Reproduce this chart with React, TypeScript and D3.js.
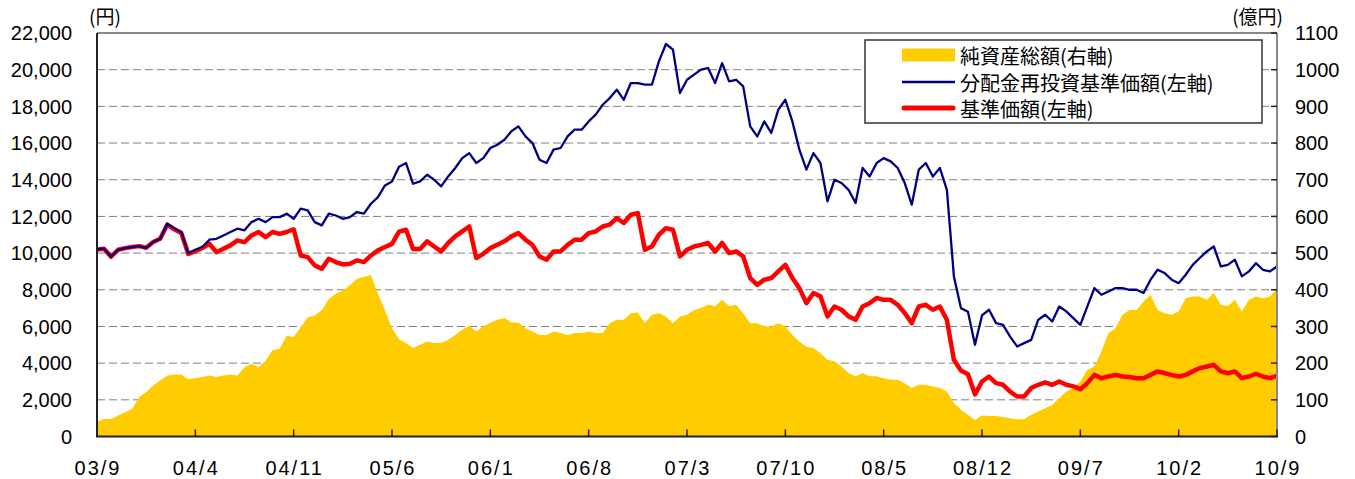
import { useRef, useEffect } from "react";
import * as d3 from "d3";

// x axis: one label every 7 months, 2003/9 .. 2010/9
const xLabels = ["03/9", "04/4", "04/11", "05/6", "06/1", "06/8", "07/3", "07/10", "08/5", "08/12", "09/7", "10/2", "10/9"];

// 純資産総額 (億円), read twice a month
const netAssets = [
  40, 48, 48, 57, 66, 75, 107, 121, 139, 153, 166, 169, 169, 157, 159, 162, 166, 162, 166, 169,
  166, 189, 198, 189, 207, 235, 239, 275, 271, 298, 325, 330, 344, 375, 389, 398, 412, 430, 435, 440,
  389, 344, 295, 265, 255, 241, 250, 259, 255, 255, 264, 277, 291, 302, 286, 300, 310, 318, 323, 311,
  311, 295, 286, 277, 277, 286, 282, 277, 282, 282, 286, 282, 282, 309, 318, 318, 336, 338, 309, 332,
  336, 327, 309, 327, 332, 345, 350, 359, 355, 373, 355, 359, 336, 309, 309, 300, 300, 309, 300, 277,
  259, 245, 241, 227, 209, 205, 191, 173, 164, 173, 164, 164, 159, 155, 155, 145, 132, 141, 141, 136,
  132, 123, 91, 73, 59, 45, 57, 56, 56, 53, 50, 47, 47, 59, 68, 77, 86, 105, 123, 132,
  150, 182, 191, 232, 282, 295, 332, 345, 345, 368, 386, 345, 336, 332, 341, 377, 382, 382, 373, 391,
  359, 355, 373, 341, 373, 382, 377, 382, 402,
];

// 分配金再投資基準価額 (円)
const reinvestedPrice = [
  10200, 10240, 9800, 10180, 10270, 10330, 10380, 10290, 10600, 10780, 11600, 11350, 11150, 10000, 10180, 10330, 10730, 10780, 10960, 11150,
  11330, 11240, 11690, 11870, 11690, 11960, 11960, 12150, 11870, 12420, 12330, 11690, 11510, 12150, 12050, 11870, 11960, 12240, 12150, 12690,
  13050, 13690, 13900, 14710, 14910, 13780, 13910, 14270, 14000, 13640, 14180, 14640, 15180, 15450, 14910, 15180, 15730, 15910, 16180, 16640,
  16910, 16360, 16000, 15090, 14910, 15640, 15730, 16360, 16730, 16730, 17180, 17550, 18090, 18450, 18910, 18360, 19270, 19270, 19180, 19180,
  20450, 21400, 21090, 18730, 19450, 19730, 20000, 20090, 19270, 20360, 19360, 19450, 19090, 16910, 16360, 17180, 16550, 17820, 18360, 17180,
  15640, 14550, 15450, 14910, 12820, 14000, 13820, 13450, 12730, 14640, 14180, 14910, 15180, 15000, 14640, 13820, 12640, 14550, 14910, 14180,
  14640, 13450, 8730, 7000, 6800, 5000, 6600, 6910, 6180, 6090, 5450, 4910, 5090, 5270, 6360, 6640, 6270, 7090, 6820, 6450,
  6090, 7090, 8090, 7730, 7910, 8090, 8090, 8000, 8000, 7820, 8550, 9090, 8910, 8550, 8360, 8820, 9360, 9730, 10090, 10360,
  9270, 9360, 9640, 8730, 9000, 9450, 9090, 9000, 9270,
];

// 基準価額 (円)
const basePrice = [
  10200, 10240, 9800, 10180, 10270, 10330, 10380, 10290, 10600, 10780, 11550, 11300, 11100, 9950, 10100, 10280, 10510, 10050, 10240, 10420,
  10690, 10600, 10960, 11150, 10870, 11150, 11050, 11150, 11300, 9870, 9780, 9330, 9150, 9690, 9510, 9380, 9420, 9600, 9510, 9870,
  10150, 10330, 10500, 11170, 11270, 10220, 10220, 10640, 10360, 10090, 10550, 10910, 11180, 11450, 9730, 9960, 10270, 10450, 10640, 10910,
  11090, 10730, 10450, 9820, 9640, 10090, 10090, 10450, 10730, 10730, 11090, 11180, 11450, 11550, 11910, 11640, 12090, 12180, 10180, 10360,
  11000, 11360, 11270, 9820, 10180, 10360, 10450, 10550, 10090, 10550, 10000, 10090, 9820, 8640, 8270, 8550, 8640, 9000, 9360, 8640,
  8090, 7270, 7820, 7640, 6550, 7090, 6910, 6550, 6360, 7090, 7270, 7550, 7450, 7450, 7180, 6730, 6180, 7090, 7180, 6910,
  7090, 6360, 4180, 3600, 3400, 2300, 3000, 3270, 2910, 2820, 2450, 2180, 2180, 2640, 2820, 2950, 2820, 3000, 2820, 2730,
  2580, 2910, 3360, 3180, 3270, 3360, 3270, 3240, 3180, 3180, 3360, 3550, 3450, 3360, 3270, 3360, 3550, 3730, 3820, 3910,
  3550, 3450, 3550, 3180, 3270, 3420, 3270, 3180, 3300,
];

const leftTicks = d3.range(0, 22001, 2000);
const rightTicks = d3.range(0, 1101, 100);

const legendItems = ["純資産総額(右軸)", "分配金再投資基準価額(左軸)", "基準価額(左軸)"];

const W = 1355;
const H = 479;
const NUM_FONT = "'Liberation Sans', Arial, sans-serif";
const JP_FONT = "'Noto Sans CJK JP', 'Liberation Sans', sans-serif";

export default function App() {
  const svgRef = useRef<SVGSVGElement | null>(null);

  useEffect(() => {
    const svg = d3.select(svgRef.current);
    svg.selectAll("*").remove();

    const margin = { top: 33, right: 78, bottom: 42.5, left: 97 };
    const innerWidth = W - margin.left - margin.right;
    const innerHeight = H - margin.top - margin.bottom;

    const lastMonth = (xLabels.length - 1) * 7;
    const xScale = d3.scaleLinear().domain([0, lastMonth]).range([0, innerWidth]);
    const yLeft = d3.scaleLinear().domain([0, 22000]).range([innerHeight, 0]);
    const yRight = d3.scaleLinear().domain([0, 1100]).range([innerHeight, 0]);

    const g = svg
      .append("g")
      .attr("transform", `translate(${margin.left},${margin.top})`);

    // dashed grid
    g.append("g")
      .selectAll("line")
      .data(leftTicks.slice(1, -1))
      .join("line")
      .attr("x1", 0)
      .attr("x2", innerWidth)
      .attr("y1", (d) => yLeft(d))
      .attr("y2", (d) => yLeft(d))
      .attr("stroke", "#808080")
      .attr("stroke-width", 1)
      .attr("stroke-dasharray", "8,4");

    const area = d3
      .area<number>()
      .x((_, i) => xScale(i / 2))
      .y0(innerHeight)
      .y1((d) => yRight(d));

    g.append("path").datum(netAssets).attr("fill", "#FFCC00").attr("d", area);

    const line = d3
      .line<number>()
      .x((_, i) => xScale(i / 2))
      .y((d) => yLeft(d));

    g.append("path")
      .datum(basePrice)
      .attr("fill", "none")
      .attr("stroke", "#FF0000")
      .attr("stroke-width", 4.5)
      .attr("stroke-linejoin", "round")
      .attr("d", line);

    g.append("path")
      .datum(reinvestedPrice)
      .attr("fill", "none")
      .attr("stroke", "#000080")
      .attr("stroke-width", 2.3)
      .attr("stroke-linejoin", "round")
      .attr("d", line);

    // frame
    g.append("line")
      .attr("x1", 0).attr("x2", innerWidth).attr("y1", 0).attr("y2", 0)
      .attr("stroke", "#888").attr("stroke-width", 2);
    g.append("line")
      .attr("x1", innerWidth).attr("x2", innerWidth).attr("y1", 0).attr("y2", innerHeight)
      .attr("stroke", "#888").attr("stroke-width", 2);
    g.append("line")
      .attr("x1", 0).attr("x2", 0).attr("y1", 0).attr("y2", innerHeight)
      .attr("stroke", "#222").attr("stroke-width", 2);
    g.append("line")
      .attr("x1", -1).attr("x2", innerWidth + 1).attr("y1", innerHeight).attr("y2", innerHeight)
      .attr("stroke", "#222").attr("stroke-width", 2);

    // bottom ticks (inward) + labels
    const xt = g.append("g");
    xLabels.forEach((label, i) => {
      const px = xScale(i * 7);
      xt.append("line")
        .attr("x1", px).attr("x2", px)
        .attr("y1", innerHeight).attr("y2", innerHeight - 7)
        .attr("stroke", "#222").attr("stroke-width", 1.5);
      xt.append("text")
        .attr("x", px + 1)
        .attr("y", innerHeight + 38.5)
        .attr("text-anchor", "middle")
        .style("font-family", NUM_FONT)
        .style("font-size", "20px")
        .style("letter-spacing", "2px")
        .text(label);
    });

    // left axis labels
    g.append("g")
      .selectAll("text")
      .data(leftTicks)
      .join("text")
      .attr("x", -25)
      .attr("y", (d) => yLeft(d))
      .attr("dy", "0.36em")
      .attr("text-anchor", "end")
      .style("font-family", NUM_FONT)
      .style("font-size", "20px")
      .text((d) => d3.format(",")(d));

    // right axis ticks (inward) + labels
    const rt = g.append("g");
    rightTicks.forEach((d) => {
      rt.append("line")
        .attr("x1", innerWidth).attr("x2", innerWidth - 6)
        .attr("y1", yRight(d)).attr("y2", yRight(d))
        .attr("stroke", "#222").attr("stroke-width", 1.5);
      rt.append("text")
        .attr("x", innerWidth + 18)
        .attr("y", yRight(d))
        .attr("dy", "0.36em")
        .style("font-family", NUM_FONT)
        .style("font-size", "20px")
        .text(String(d));
    });

    // units
    svg.append("text")
      .attr("x", 89).attr("y", 24)
      .style("font-family", JP_FONT).style("font-size", "19px")
      .text("(円)");
    svg.append("text")
      .attr("x", 1283).attr("y", 24)
      .attr("text-anchor", "end")
      .style("font-family", JP_FONT).style("font-size", "19px")
      .text("(億円)");

    // legend
    const lg = svg.append("g").attr("transform", "translate(865,40)");
    lg.append("rect")
      .attr("width", 397).attr("height", 83)
      .attr("fill", "#fff").attr("stroke", "#333").attr("stroke-width", 1.5);
    const rowY = [15, 42, 68];
    lg.append("rect").attr("x", 37).attr("y", rowY[0] - 6.5).attr("width", 53).attr("height", 13).attr("fill", "#FFCC00");
    lg.append("line").attr("x1", 37).attr("x2", 90).attr("y1", rowY[1]).attr("y2", rowY[1])
      .attr("stroke", "#000080").attr("stroke-width", 2.5);
    lg.append("line").attr("x1", 39).attr("x2", 88).attr("y1", rowY[2]).attr("y2", rowY[2])
      .attr("stroke", "#FF0000").attr("stroke-width", 5).attr("stroke-linecap", "round");
    legendItems.forEach((t, i) => {
      lg.append("text")
        .attr("x", 95).attr("y", rowY[i])
        .attr("dominant-baseline", "central")
        .style("font-family", JP_FONT)
        .style("font-size", "20px")
        .text(t);
    });
  }, []);

  return (
    <svg
      ref={svgRef}
      width={W}
      height={H}
      style={{ position: "absolute", top: 0, left: 0, background: "#fff" }}
    />
  );
}
